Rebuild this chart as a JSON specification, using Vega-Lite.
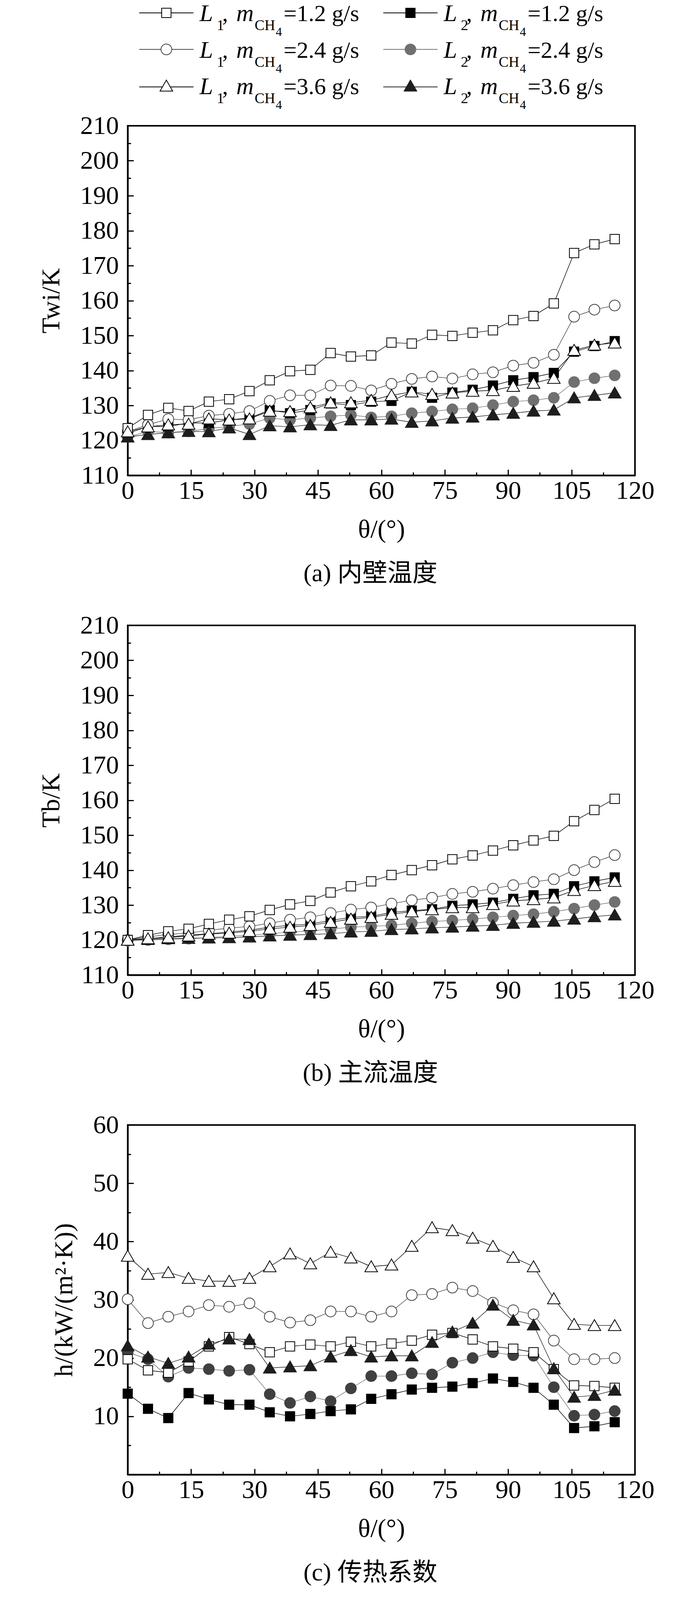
{
  "$schema": "https://vega.github.io/schema/vega-lite/v6.json",
  "background": "white",
  "padding": {"left": 96, "top": 0, "right": 97, "bottom": 0},
  "config": {
    "font": "Liberation Serif",
    "view": {"stroke": "black", "strokeWidth": 4},
    "axis": {
      "grid": false,
      "domainColor": "black",
      "domainWidth": 4,
      "tickColor": "black",
      "tickWidth": 3,
      "labelFont": "Liberation Serif",
      "labelFontSize": 66,
      "labelColor": "black",
      "labelFlush": false,
      "labelOverlap": false,
      "titleFont": "Liberation Serif",
      "titleFontSize": 66,
      "titleFontWeight": "normal",
      "titleColor": "black"
    },
    "axisX": {"labelPadding": 22, "titlePadding": 27},
    "axisY": {"labelPadding": 38, "titlePadding": 40},
    "title": {
      "font": "Liberation Serif, Noto Sans CJK SC",
      "fontSize": 64,
      "fontWeight": "normal",
      "color": "black",
      "orient": "bottom",
      "frame": "group",
      "anchor": "middle",
      "offset": 49
    },
    "text": {"font": "Liberation Serif", "color": "black", "align": "left", "baseline": "alphabetic"}
  },
  "datasets": {
    "a": [
      {"s":"L2-2.4","t":0,"v":121.0},{"s":"L2-2.4","t":4.8,"v":122.6},{"s":"L2-2.4","t":9.6,"v":122.2},{"s":"L2-2.4","t":14.4,"v":122.6},{"s":"L2-2.4","t":19.2,"v":123.4},{"s":"L2-2.4","t":24,"v":124.0},{"s":"L2-2.4","t":28.8,"v":124.7},{"s":"L2-2.4","t":33.6,"v":126.4},{"s":"L2-2.4","t":38.4,"v":125.9},{"s":"L2-2.4","t":43.2,"v":126.4},{"s":"L2-2.4","t":48,"v":126.9},{"s":"L2-2.4","t":52.8,"v":127.3},{"s":"L2-2.4","t":57.6,"v":126.6},{"s":"L2-2.4","t":62.4,"v":126.9},{"s":"L2-2.4","t":67.2,"v":127.8},{"s":"L2-2.4","t":72,"v":128.3},{"s":"L2-2.4","t":76.8,"v":128.9},{"s":"L2-2.4","t":81.6,"v":129.2},{"s":"L2-2.4","t":86.4,"v":130.1},{"s":"L2-2.4","t":91.2,"v":131.1},{"s":"L2-2.4","t":96,"v":131.5},{"s":"L2-2.4","t":100.8,"v":132.2},{"s":"L2-2.4","t":105.6,"v":136.7},{"s":"L2-2.4","t":110.4,"v":137.8},{"s":"L2-2.4","t":115.2,"v":138.6},
      {"s":"L2-1.2","t":0,"v":122.0},{"s":"L2-1.2","t":4.8,"v":124.0},{"s":"L2-1.2","t":9.6,"v":124.0},{"s":"L2-1.2","t":14.4,"v":125.0},{"s":"L2-1.2","t":19.2,"v":125.0},{"s":"L2-1.2","t":24,"v":125.9},{"s":"L2-1.2","t":28.8,"v":126.4},{"s":"L2-1.2","t":33.6,"v":128.7},{"s":"L2-1.2","t":38.4,"v":127.8},{"s":"L2-1.2","t":43.2,"v":128.7},{"s":"L2-1.2","t":48,"v":130.6},{"s":"L2-1.2","t":52.8,"v":130.1},{"s":"L2-1.2","t":57.6,"v":131.1},{"s":"L2-1.2","t":62.4,"v":131.3},{"s":"L2-1.2","t":67.2,"v":133.9},{"s":"L2-1.2","t":72,"v":132.2},{"s":"L2-1.2","t":76.8,"v":133.7},{"s":"L2-1.2","t":81.6,"v":134.5},{"s":"L2-1.2","t":86.4,"v":135.7},{"s":"L2-1.2","t":91.2,"v":137.2},{"s":"L2-1.2","t":96,"v":138.1},{"s":"L2-1.2","t":100.8,"v":139.3},{"s":"L2-1.2","t":105.6,"v":145.4},{"s":"L2-1.2","t":110.4,"v":147.0},{"s":"L2-1.2","t":115.2,"v":148.4},
      {"s":"L1-2.4","t":0,"v":122.5},{"s":"L1-2.4","t":4.8,"v":124.5},{"s":"L1-2.4","t":9.6,"v":126.1},{"s":"L1-2.4","t":14.4,"v":125.9},{"s":"L1-2.4","t":19.2,"v":127.1},{"s":"L1-2.4","t":24,"v":127.6},{"s":"L1-2.4","t":28.8,"v":128.4},{"s":"L1-2.4","t":33.6,"v":131.3},{"s":"L1-2.4","t":38.4,"v":132.9},{"s":"L1-2.4","t":43.2,"v":132.9},{"s":"L1-2.4","t":48,"v":135.7},{"s":"L1-2.4","t":52.8,"v":135.6},{"s":"L1-2.4","t":57.6,"v":134.3},{"s":"L1-2.4","t":62.4,"v":136.2},{"s":"L1-2.4","t":67.2,"v":137.6},{"s":"L1-2.4","t":72,"v":138.3},{"s":"L1-2.4","t":76.8,"v":137.7},{"s":"L1-2.4","t":81.6,"v":138.9},{"s":"L1-2.4","t":86.4,"v":139.5},{"s":"L1-2.4","t":91.2,"v":141.4},{"s":"L1-2.4","t":96,"v":142.2},{"s":"L1-2.4","t":100.8,"v":144.5},{"s":"L1-2.4","t":105.6,"v":155.4},{"s":"L1-2.4","t":110.4,"v":157.4},{"s":"L1-2.4","t":115.2,"v":158.6},
      {"s":"L1-1.2","t":0,"v":123.5},{"s":"L1-1.2","t":4.8,"v":127.3},{"s":"L1-1.2","t":9.6,"v":129.3},{"s":"L1-1.2","t":14.4,"v":128.4},{"s":"L1-1.2","t":19.2,"v":131.1},{"s":"L1-1.2","t":24,"v":131.8},{"s":"L1-1.2","t":28.8,"v":134.1},{"s":"L1-1.2","t":33.6,"v":137.2},{"s":"L1-1.2","t":38.4,"v":139.8},{"s":"L1-1.2","t":43.2,"v":140.2},{"s":"L1-1.2","t":48,"v":145.0},{"s":"L1-1.2","t":52.8,"v":144.0},{"s":"L1-1.2","t":57.6,"v":144.3},{"s":"L1-1.2","t":62.4,"v":148.0},{"s":"L1-1.2","t":67.2,"v":147.7},{"s":"L1-1.2","t":72,"v":150.2},{"s":"L1-1.2","t":76.8,"v":149.9},{"s":"L1-1.2","t":81.6,"v":150.8},{"s":"L1-1.2","t":86.4,"v":151.5},{"s":"L1-1.2","t":91.2,"v":154.4},{"s":"L1-1.2","t":96,"v":155.6},{"s":"L1-1.2","t":100.8,"v":159.2},{"s":"L1-1.2","t":105.6,"v":173.6},{"s":"L1-1.2","t":110.4,"v":176.1},{"s":"L1-1.2","t":115.2,"v":177.6},
      {"s":"L2-3.6","t":0,"v":121.0},{"s":"L2-3.6","t":4.8,"v":121.7},{"s":"L2-3.6","t":9.6,"v":122.2},{"s":"L2-3.6","t":14.4,"v":122.6},{"s":"L2-3.6","t":19.2,"v":122.5},{"s":"L2-3.6","t":24,"v":123.6},{"s":"L2-3.6","t":28.8,"v":121.7},{"s":"L2-3.6","t":33.6,"v":124.2},{"s":"L2-3.6","t":38.4,"v":123.9},{"s":"L2-3.6","t":43.2,"v":124.5},{"s":"L2-3.6","t":48,"v":124.3},{"s":"L2-3.6","t":52.8,"v":125.9},{"s":"L2-3.6","t":57.6,"v":125.9},{"s":"L2-3.6","t":62.4,"v":126.1},{"s":"L2-3.6","t":67.2,"v":125.2},{"s":"L2-3.6","t":72,"v":125.6},{"s":"L2-3.6","t":76.8,"v":126.4},{"s":"L2-3.6","t":81.6,"v":126.7},{"s":"L2-3.6","t":86.4,"v":127.3},{"s":"L2-3.6","t":91.2,"v":127.8},{"s":"L2-3.6","t":96,"v":128.4},{"s":"L2-3.6","t":100.8,"v":128.7},{"s":"L2-3.6","t":105.6,"v":132.2},{"s":"L2-3.6","t":110.4,"v":132.9},{"s":"L2-3.6","t":115.2,"v":133.6},
      {"s":"L1-3.6","t":0,"v":122.5},{"s":"L1-3.6","t":4.8,"v":123.9},{"s":"L1-3.6","t":9.6,"v":124.5},{"s":"L1-3.6","t":14.4,"v":124.7},{"s":"L1-3.6","t":19.2,"v":126.2},{"s":"L1-3.6","t":24,"v":125.9},{"s":"L1-3.6","t":28.8,"v":126.2},{"s":"L1-3.6","t":33.6,"v":128.4},{"s":"L1-3.6","t":38.4,"v":128.3},{"s":"L1-3.6","t":43.2,"v":129.4},{"s":"L1-3.6","t":48,"v":130.8},{"s":"L1-3.6","t":52.8,"v":130.8},{"s":"L1-3.6","t":57.6,"v":131.5},{"s":"L1-3.6","t":62.4,"v":132.9},{"s":"L1-3.6","t":67.2,"v":133.9},{"s":"L1-3.6","t":72,"v":133.2},{"s":"L1-3.6","t":76.8,"v":133.6},{"s":"L1-3.6","t":81.6,"v":134.1},{"s":"L1-3.6","t":86.4,"v":134.3},{"s":"L1-3.6","t":91.2,"v":135.5},{"s":"L1-3.6","t":96,"v":136.4},{"s":"L1-3.6","t":100.8,"v":137.8},{"s":"L1-3.6","t":105.6,"v":145.8},{"s":"L1-3.6","t":110.4,"v":147.3},{"s":"L1-3.6","t":115.2,"v":147.9}
    ],
    "b": [
      {"s":"L2-2.4","t":0,"v":119.8},{"s":"L2-2.4","t":4.8,"v":120.0},{"s":"L2-2.4","t":9.6,"v":120.2},{"s":"L2-2.4","t":14.4,"v":120.4},{"s":"L2-2.4","t":19.2,"v":120.7},{"s":"L2-2.4","t":24,"v":121.1},{"s":"L2-2.4","t":28.8,"v":121.4},{"s":"L2-2.4","t":33.6,"v":121.8},{"s":"L2-2.4","t":38.4,"v":122.3},{"s":"L2-2.4","t":43.2,"v":122.6},{"s":"L2-2.4","t":48,"v":123.1},{"s":"L2-2.4","t":52.8,"v":123.7},{"s":"L2-2.4","t":57.6,"v":123.9},{"s":"L2-2.4","t":62.4,"v":124.2},{"s":"L2-2.4","t":67.2,"v":124.8},{"s":"L2-2.4","t":72,"v":125.3},{"s":"L2-2.4","t":76.8,"v":125.6},{"s":"L2-2.4","t":81.6,"v":126.0},{"s":"L2-2.4","t":86.4,"v":126.5},{"s":"L2-2.4","t":91.2,"v":127.0},{"s":"L2-2.4","t":96,"v":127.4},{"s":"L2-2.4","t":100.8,"v":128.1},{"s":"L2-2.4","t":105.6,"v":129.0},{"s":"L2-2.4","t":110.4,"v":130.0},{"s":"L2-2.4","t":115.2,"v":130.9},
      {"s":"L2-1.2","t":0,"v":120.0},{"s":"L2-1.2","t":4.8,"v":120.4},{"s":"L2-1.2","t":9.6,"v":120.9},{"s":"L2-1.2","t":14.4,"v":121.4},{"s":"L2-1.2","t":19.2,"v":121.8},{"s":"L2-1.2","t":24,"v":122.3},{"s":"L2-1.2","t":28.8,"v":122.8},{"s":"L2-1.2","t":33.6,"v":123.7},{"s":"L2-1.2","t":38.4,"v":124.2},{"s":"L2-1.2","t":43.2,"v":124.6},{"s":"L2-1.2","t":48,"v":125.6},{"s":"L2-1.2","t":52.8,"v":126.5},{"s":"L2-1.2","t":57.6,"v":126.8},{"s":"L2-1.2","t":62.4,"v":127.9},{"s":"L2-1.2","t":67.2,"v":128.4},{"s":"L2-1.2","t":72,"v":128.8},{"s":"L2-1.2","t":76.8,"v":129.8},{"s":"L2-1.2","t":81.6,"v":130.2},{"s":"L2-1.2","t":86.4,"v":130.7},{"s":"L2-1.2","t":91.2,"v":131.8},{"s":"L2-1.2","t":96,"v":132.8},{"s":"L2-1.2","t":100.8,"v":133.2},{"s":"L2-1.2","t":105.6,"v":135.4},{"s":"L2-1.2","t":110.4,"v":136.8},{"s":"L2-1.2","t":115.2,"v":137.9},
      {"s":"L1-2.4","t":0,"v":120.0},{"s":"L1-2.4","t":4.8,"v":120.9},{"s":"L1-2.4","t":9.6,"v":121.6},{"s":"L1-2.4","t":14.4,"v":122.0},{"s":"L1-2.4","t":19.2,"v":122.8},{"s":"L1-2.4","t":24,"v":123.4},{"s":"L1-2.4","t":28.8,"v":123.9},{"s":"L1-2.4","t":33.6,"v":124.8},{"s":"L1-2.4","t":38.4,"v":125.8},{"s":"L1-2.4","t":43.2,"v":126.5},{"s":"L1-2.4","t":48,"v":127.7},{"s":"L1-2.4","t":52.8,"v":128.7},{"s":"L1-2.4","t":57.6,"v":129.3},{"s":"L1-2.4","t":62.4,"v":130.4},{"s":"L1-2.4","t":67.2,"v":131.4},{"s":"L1-2.4","t":72,"v":132.1},{"s":"L1-2.4","t":76.8,"v":133.2},{"s":"L1-2.4","t":81.6,"v":133.8},{"s":"L1-2.4","t":86.4,"v":134.7},{"s":"L1-2.4","t":91.2,"v":135.7},{"s":"L1-2.4","t":96,"v":136.6},{"s":"L1-2.4","t":100.8,"v":137.4},{"s":"L1-2.4","t":105.6,"v":140.0},{"s":"L1-2.4","t":110.4,"v":142.3},{"s":"L1-2.4","t":115.2,"v":144.3},
      {"s":"L1-1.2","t":0,"v":120.0},{"s":"L1-1.2","t":4.8,"v":121.4},{"s":"L1-1.2","t":9.6,"v":122.5},{"s":"L1-1.2","t":14.4,"v":123.2},{"s":"L1-1.2","t":19.2,"v":124.6},{"s":"L1-1.2","t":24,"v":125.8},{"s":"L1-1.2","t":28.8,"v":126.8},{"s":"L1-1.2","t":33.6,"v":128.6},{"s":"L1-1.2","t":38.4,"v":130.2},{"s":"L1-1.2","t":43.2,"v":131.2},{"s":"L1-1.2","t":48,"v":133.6},{"s":"L1-1.2","t":52.8,"v":135.4},{"s":"L1-1.2","t":57.6,"v":136.8},{"s":"L1-1.2","t":62.4,"v":138.6},{"s":"L1-1.2","t":67.2,"v":140.0},{"s":"L1-1.2","t":72,"v":141.4},{"s":"L1-1.2","t":76.8,"v":143.1},{"s":"L1-1.2","t":81.6,"v":144.2},{"s":"L1-1.2","t":86.4,"v":145.6},{"s":"L1-1.2","t":91.2,"v":147.1},{"s":"L1-1.2","t":96,"v":148.5},{"s":"L1-1.2","t":100.8,"v":149.8},{"s":"L1-1.2","t":105.6,"v":154.0},{"s":"L1-1.2","t":110.4,"v":157.2},{"s":"L1-1.2","t":115.2,"v":160.4},
      {"s":"L2-3.6","t":0,"v":120.0},{"s":"L2-3.6","t":4.8,"v":120.2},{"s":"L2-3.6","t":9.6,"v":120.4},{"s":"L2-3.6","t":14.4,"v":120.5},{"s":"L2-3.6","t":19.2,"v":120.6},{"s":"L2-3.6","t":24,"v":120.7},{"s":"L2-3.6","t":28.8,"v":120.9},{"s":"L2-3.6","t":33.6,"v":121.2},{"s":"L2-3.6","t":38.4,"v":121.4},{"s":"L2-3.6","t":43.2,"v":121.6},{"s":"L2-3.6","t":48,"v":121.8},{"s":"L2-3.6","t":52.8,"v":122.3},{"s":"L2-3.6","t":57.6,"v":122.5},{"s":"L2-3.6","t":62.4,"v":123.0},{"s":"L2-3.6","t":67.2,"v":123.2},{"s":"L2-3.6","t":72,"v":123.5},{"s":"L2-3.6","t":76.8,"v":123.7},{"s":"L2-3.6","t":81.6,"v":124.0},{"s":"L2-3.6","t":86.4,"v":124.2},{"s":"L2-3.6","t":91.2,"v":124.8},{"s":"L2-3.6","t":96,"v":125.1},{"s":"L2-3.6","t":100.8,"v":125.4},{"s":"L2-3.6","t":105.6,"v":126.0},{"s":"L2-3.6","t":110.4,"v":126.7},{"s":"L2-3.6","t":115.2,"v":127.2},
      {"s":"L1-3.6","t":0,"v":120.0},{"s":"L1-3.6","t":4.8,"v":120.4},{"s":"L1-3.6","t":9.6,"v":120.7},{"s":"L1-3.6","t":14.4,"v":121.2},{"s":"L1-3.6","t":19.2,"v":121.7},{"s":"L1-3.6","t":24,"v":122.0},{"s":"L1-3.6","t":28.8,"v":122.5},{"s":"L1-3.6","t":33.6,"v":123.2},{"s":"L1-3.6","t":38.4,"v":123.7},{"s":"L1-3.6","t":43.2,"v":124.2},{"s":"L1-3.6","t":48,"v":125.1},{"s":"L1-3.6","t":52.8,"v":126.0},{"s":"L1-3.6","t":57.6,"v":126.5},{"s":"L1-3.6","t":62.4,"v":127.4},{"s":"L1-3.6","t":67.2,"v":128.1},{"s":"L1-3.6","t":72,"v":128.7},{"s":"L1-3.6","t":76.8,"v":129.3},{"s":"L1-3.6","t":81.6,"v":129.3},{"s":"L1-3.6","t":86.4,"v":130.2},{"s":"L1-3.6","t":91.2,"v":131.2},{"s":"L1-3.6","t":96,"v":131.6},{"s":"L1-3.6","t":100.8,"v":132.1},{"s":"L1-3.6","t":105.6,"v":134.2},{"s":"L1-3.6","t":110.4,"v":135.6},{"s":"L1-3.6","t":115.2,"v":136.8}
    ],
    "c": [
      {"s":"L2-2.4","t":0,"v":21.0},{"s":"L2-2.4","t":4.8,"v":19.8},{"s":"L2-2.4","t":9.6,"v":16.8},{"s":"L2-2.4","t":14.4,"v":18.3},{"s":"L2-2.4","t":19.2,"v":18.1},{"s":"L2-2.4","t":24,"v":17.8},{"s":"L2-2.4","t":28.8,"v":18.0},{"s":"L2-2.4","t":33.6,"v":13.8},{"s":"L2-2.4","t":38.4,"v":12.3},{"s":"L2-2.4","t":43.2,"v":13.4},{"s":"L2-2.4","t":48,"v":12.6},{"s":"L2-2.4","t":52.8,"v":14.8},{"s":"L2-2.4","t":57.6,"v":16.9},{"s":"L2-2.4","t":62.4,"v":16.9},{"s":"L2-2.4","t":67.2,"v":17.4},{"s":"L2-2.4","t":72,"v":17.2},{"s":"L2-2.4","t":76.8,"v":19.2},{"s":"L2-2.4","t":81.6,"v":20.0},{"s":"L2-2.4","t":86.4,"v":21.0},{"s":"L2-2.4","t":91.2,"v":20.5},{"s":"L2-2.4","t":96,"v":20.4},{"s":"L2-2.4","t":100.8,"v":15.0},{"s":"L2-2.4","t":105.6,"v":10.1},{"s":"L2-2.4","t":110.4,"v":10.3},{"s":"L2-2.4","t":115.2,"v":10.9},
      {"s":"L2-1.2","t":0,"v":13.9},{"s":"L2-1.2","t":4.8,"v":11.3},{"s":"L2-1.2","t":9.6,"v":9.7},{"s":"L2-1.2","t":14.4,"v":14.0},{"s":"L2-1.2","t":19.2,"v":12.9},{"s":"L2-1.2","t":24,"v":12.0},{"s":"L2-1.2","t":28.8,"v":12.0},{"s":"L2-1.2","t":33.6,"v":10.7},{"s":"L2-1.2","t":38.4,"v":10.0},{"s":"L2-1.2","t":43.2,"v":10.4},{"s":"L2-1.2","t":48,"v":10.9},{"s":"L2-1.2","t":52.8,"v":11.2},{"s":"L2-1.2","t":57.6,"v":13.0},{"s":"L2-1.2","t":62.4,"v":13.8},{"s":"L2-1.2","t":67.2,"v":14.6},{"s":"L2-1.2","t":72,"v":14.9},{"s":"L2-1.2","t":76.8,"v":15.1},{"s":"L2-1.2","t":81.6,"v":15.7},{"s":"L2-1.2","t":86.4,"v":16.5},{"s":"L2-1.2","t":91.2,"v":15.9},{"s":"L2-1.2","t":96,"v":14.9},{"s":"L2-1.2","t":100.8,"v":12.0},{"s":"L2-1.2","t":105.6,"v":8.0},{"s":"L2-1.2","t":110.4,"v":8.3},{"s":"L2-1.2","t":115.2,"v":9.0},
      {"s":"L1-2.4","t":0,"v":30.1},{"s":"L1-2.4","t":4.8,"v":26.0},{"s":"L1-2.4","t":9.6,"v":27.1},{"s":"L1-2.4","t":14.4,"v":28.0},{"s":"L1-2.4","t":19.2,"v":29.1},{"s":"L1-2.4","t":24,"v":28.8},{"s":"L1-2.4","t":28.8,"v":29.4},{"s":"L1-2.4","t":33.6,"v":27.1},{"s":"L1-2.4","t":38.4,"v":26.1},{"s":"L1-2.4","t":43.2,"v":26.5},{"s":"L1-2.4","t":48,"v":28.0},{"s":"L1-2.4","t":52.8,"v":28.0},{"s":"L1-2.4","t":57.6,"v":27.1},{"s":"L1-2.4","t":62.4,"v":28.0},{"s":"L1-2.4","t":67.2,"v":30.8},{"s":"L1-2.4","t":72,"v":31.0},{"s":"L1-2.4","t":76.8,"v":32.1},{"s":"L1-2.4","t":81.6,"v":31.5},{"s":"L1-2.4","t":86.4,"v":29.5},{"s":"L1-2.4","t":91.2,"v":28.2},{"s":"L1-2.4","t":96,"v":27.5},{"s":"L1-2.4","t":100.8,"v":23.0},{"s":"L1-2.4","t":105.6,"v":19.8},{"s":"L1-2.4","t":110.4,"v":19.8},{"s":"L1-2.4","t":115.2,"v":20.0},
      {"s":"L1-1.2","t":0,"v":19.8},{"s":"L1-1.2","t":4.8,"v":17.9},{"s":"L1-1.2","t":9.6,"v":17.5},{"s":"L1-1.2","t":14.4,"v":19.4},{"s":"L1-1.2","t":19.2,"v":22.0},{"s":"L1-1.2","t":24,"v":23.6},{"s":"L1-1.2","t":28.8,"v":22.4},{"s":"L1-1.2","t":33.6,"v":21.0},{"s":"L1-1.2","t":38.4,"v":22.0},{"s":"L1-1.2","t":43.2,"v":22.3},{"s":"L1-1.2","t":48,"v":22.0},{"s":"L1-1.2","t":52.8,"v":22.8},{"s":"L1-1.2","t":57.6,"v":22.0},{"s":"L1-1.2","t":62.4,"v":22.5},{"s":"L1-1.2","t":67.2,"v":23.0},{"s":"L1-1.2","t":72,"v":24.0},{"s":"L1-1.2","t":76.8,"v":24.3},{"s":"L1-1.2","t":81.6,"v":23.2},{"s":"L1-1.2","t":86.4,"v":22.0},{"s":"L1-1.2","t":91.2,"v":21.6},{"s":"L1-1.2","t":96,"v":21.0},{"s":"L1-1.2","t":100.8,"v":18.1},{"s":"L1-1.2","t":105.6,"v":15.3},{"s":"L1-1.2","t":110.4,"v":15.2},{"s":"L1-1.2","t":115.2,"v":14.9},
      {"s":"L2-3.6","t":0,"v":22.1},{"s":"L2-3.6","t":4.8,"v":20.2},{"s":"L2-3.6","t":9.6,"v":19.1},{"s":"L2-3.6","t":14.4,"v":20.2},{"s":"L2-3.6","t":19.2,"v":22.4},{"s":"L2-3.6","t":24,"v":23.3},{"s":"L2-3.6","t":28.8,"v":23.2},{"s":"L2-3.6","t":33.6,"v":18.3},{"s":"L2-3.6","t":38.4,"v":18.5},{"s":"L2-3.6","t":43.2,"v":18.7},{"s":"L2-3.6","t":48,"v":20.2},{"s":"L2-3.6","t":52.8,"v":21.3},{"s":"L2-3.6","t":57.6,"v":20.2},{"s":"L2-3.6","t":62.4,"v":20.4},{"s":"L2-3.6","t":67.2,"v":20.4},{"s":"L2-3.6","t":72,"v":22.7},{"s":"L2-3.6","t":76.8,"v":24.5},{"s":"L2-3.6","t":81.6,"v":26.0},{"s":"L2-3.6","t":86.4,"v":29.1},{"s":"L2-3.6","t":91.2,"v":26.5},{"s":"L2-3.6","t":96,"v":25.7},{"s":"L2-3.6","t":100.8,"v":18.2},{"s":"L2-3.6","t":105.6,"v":13.3},{"s":"L2-3.6","t":110.4,"v":13.6},{"s":"L2-3.6","t":115.2,"v":14.5},
      {"s":"L1-3.6","t":0,"v":37.5},{"s":"L1-3.6","t":4.8,"v":34.4},{"s":"L1-3.6","t":9.6,"v":34.7},{"s":"L1-3.6","t":14.4,"v":33.7},{"s":"L1-3.6","t":19.2,"v":33.2},{"s":"L1-3.6","t":24,"v":33.2},{"s":"L1-3.6","t":28.8,"v":33.7},{"s":"L1-3.6","t":33.6,"v":35.7},{"s":"L1-3.6","t":38.4,"v":37.9},{"s":"L1-3.6","t":43.2,"v":36.2},{"s":"L1-3.6","t":48,"v":38.2},{"s":"L1-3.6","t":52.8,"v":37.2},{"s":"L1-3.6","t":57.6,"v":35.7},{"s":"L1-3.6","t":62.4,"v":36.0},{"s":"L1-3.6","t":67.2,"v":39.2},{"s":"L1-3.6","t":72,"v":42.4},{"s":"L1-3.6","t":76.8,"v":41.9},{"s":"L1-3.6","t":81.6,"v":40.6},{"s":"L1-3.6","t":86.4,"v":39.2},{"s":"L1-3.6","t":91.2,"v":37.3},{"s":"L1-3.6","t":96,"v":35.7},{"s":"L1-3.6","t":100.8,"v":30.2},{"s":"L1-3.6","t":105.6,"v":25.8},{"s":"L1-3.6","t":110.4,"v":25.6},{"s":"L1-3.6","t":115.2,"v":25.6}
    ]
  },
  "spacing": 26,
  "bounds": "flush",
  "resolve": {"scale": {"shape": "independent", "x": "independent", "y": "independent", "fill": "shared", "stroke": "shared"}},
  "vconcat": [
    {
      "width": 1299,
      "height": 296,
      "view": {"stroke": null},
      "data": {"values": [
        {"s": "L1-1.2", "L": "1", "m": "1.2", "lab": "=1.2 g/s"},
        {"s": "L2-1.2", "L": "2", "m": "1.2", "lab": "=1.2 g/s"},
        {"s": "L1-2.4", "L": "1", "m": "2.4", "lab": "=2.4 g/s"},
        {"s": "L2-2.4", "L": "2", "m": "2.4", "lab": "=2.4 g/s"},
        {"s": "L1-3.6", "L": "1", "m": "3.6", "lab": "=3.6 g/s"},
        {"s": "L2-3.6", "L": "2", "m": "3.6", "lab": "=3.6 g/s"}
      ]},
      "encoding": {
        "x": {"field": "L", "type": "nominal", "scale": {"type": "point", "domain": ["1", "2"], "range": [99, 724], "padding": 0}, "axis": null},
        "y": {"field": "m", "type": "nominal", "scale": {"type": "point", "domain": ["1.2", "2.4", "3.6"], "range": [33, 220], "padding": 0}, "axis": null}
      },
      "layer": [
        {
          "mark": {"type": "point", "filled": true, "size": 576, "strokeWidth": 2, "opacity": 1},
          "encoding": {
            "shape": {
              "field": "s", "type": "nominal", "legend": null,
              "scale": {
                "domain": ["L1-1.2", "L2-1.2", "L1-2.4", "L2-2.4", "L1-3.6", "L2-3.6"],
                "range": [
                  "M-5.8,0H-1M1,0H5.8M-1,-1H1V1H-1Z", "M-5.8,0H-1M1,0H5.8M-1,-1H1V1H-1Z",
                  "M-5.8,0H-1.15M1.15,0H5.8M-1.15,0A1.15,1.15 0 1,1 1.15,0A1.15,1.15 0 1,1 -1.15,0Z", "M-5.8,0H-1.15M1.15,0H5.8M-1.15,0A1.15,1.15 0 1,1 1.15,0A1.15,1.15 0 1,1 -1.15,0Z",
                  "M-5.8,0.2H-0.85M0.85,0.2H5.8M0,-1.25L1.35,1.1H-1.35Z", "M-5.8,0.2H-0.85M0.85,0.2H5.8M0,-1.25L1.35,1.1H-1.35Z"
                ]
              }
            },
            "fill": {"field": "s", "type": "nominal", "legend": null},
            "stroke": {"field": "s", "type": "nominal", "legend": null}
          }
        },
        {"mark": {"type": "text", "text": "L", "fontStyle": "italic", "fontSize": 62, "dx": 85, "dy": 21}},
        {"mark": {"type": "text", "fontSize": 38, "dx": 129, "dy": 44}, "encoding": {"text": {"field": "L"}}},
        {"mark": {"type": "text", "text": ",", "fontSize": 60, "dx": 143, "dy": 21}},
        {"mark": {"type": "text", "text": "m", "fontStyle": "italic", "fontSize": 62, "dx": 179, "dy": 21}},
        {"mark": {"type": "text", "text": "CH", "fontSize": 38, "dx": 226, "dy": 44}},
        {"mark": {"type": "text", "text": "4", "fontSize": 32, "dx": 280, "dy": 59}},
        {"mark": {"type": "text", "fontSize": 60, "dx": 300, "dy": 21}, "encoding": {"text": {"field": "lab"}}}
      ]
    },
    {
      "spacing": 384,
      "bounds": "flush",
      "resolve": {"scale": {"x": "independent", "y": "independent", "shape": "shared"}},
      "vconcat": [
        {
          "width": 1299,
          "height": 895,
          "title": {"text": "(a) 内壁温度", "dx": -28},
          "data": {"name": "a"},
          "encoding": {
            "x": {
              "field": "t", "type": "quantitative",
              "scale": {"domain": [0, 120], "nice": false},
              "axis": {
                "title": "θ/(°)",
                "values": [0, 7.5, 15, 22.5, 30, 37.5, 45, 52.5, 60, 67.5, 75, 82.5, 90, 97.5, 105, 112.5, 120],
                "labelExpr": "datum.value % 15 === 0 ? datum.label : ''",
                "tickSize": {"condition": {"test": "datum.value % 15 === 0", "value": -15}, "value": -8}
              }
            },
            "y": {
              "field": "v", "type": "quantitative",
              "scale": {"domain": [110, 210], "nice": false, "zero": false},
              "axis": {
                "title": "Twi/K",
                "values": [110, 115, 120, 125, 130, 135, 140, 145, 150, 155, 160, 165, 170, 175, 180, 185, 190, 195, 200, 205, 210],
                "labelExpr": "datum.value % 10 === 0 ? datum.label : ''",
                "tickSize": {"condition": {"test": "datum.value % 10 === 0", "value": -15}, "value": -8}
              }
            }
          },
          "layer": [
            {
              "mark": {"type": "line", "strokeWidth": 1.4},
              "encoding": {"stroke": {"field": "s", "type": "nominal", "legend": null}}
            },
            {
              "mark": {"type": "point", "filled": true, "size": 576, "strokeWidth": 2, "opacity": 1},
              "encoding": {
                "shape": {
                  "field": "s", "type": "nominal", "legend": null,
                  "scale": {
                    "domain": ["L1-1.2", "L2-1.2", "L1-2.4", "L2-2.4", "L1-3.6", "L2-3.6"],
                    "range": [
                      "M-1,-1H1V1H-1Z", "M-1,-1H1V1H-1Z",
                      "M-1.15,0A1.15,1.15 0 1,1 1.15,0A1.15,1.15 0 1,1 -1.15,0Z", "M-1.15,0A1.15,1.15 0 1,1 1.15,0A1.15,1.15 0 1,1 -1.15,0Z",
                      "M0,-1.25L1.35,1.1H-1.35Z", "M0,-1.25L1.35,1.1H-1.35Z"
                    ]
                  }
                },
                "fill": {
                  "field": "s", "type": "nominal", "legend": null,
                  "scale": {
                    "domain": ["L1-1.2", "L2-1.2", "L1-2.4", "L2-2.4", "L1-3.6", "L2-3.6"],
                    "range": ["#ffffff", "#000000", "#ffffff", "#707070", "#ffffff", "#1e1e1e"]
                  }
                },
                "stroke": {
                  "field": "s", "type": "nominal", "legend": null,
                  "scale": {
                    "domain": ["L1-1.2", "L2-1.2", "L1-2.4", "L2-2.4", "L1-3.6", "L2-3.6"],
                    "range": ["#000000", "#000000", "#444444", "#707070", "#000000", "#1e1e1e"]
                  }
                }
              }
            }
          ]
        },
        {
          "width": 1299,
          "height": 895,
          "title": {"text": "(b) 主流温度", "dx": -28},
          "data": {"name": "b"},
          "encoding": {
            "x": {
              "field": "t", "type": "quantitative",
              "scale": {"domain": [0, 120], "nice": false},
              "axis": {
                "title": "θ/(°)",
                "values": [0, 7.5, 15, 22.5, 30, 37.5, 45, 52.5, 60, 67.5, 75, 82.5, 90, 97.5, 105, 112.5, 120],
                "labelExpr": "datum.value % 15 === 0 ? datum.label : ''",
                "tickSize": {"condition": {"test": "datum.value % 15 === 0", "value": -15}, "value": -8}
              }
            },
            "y": {
              "field": "v", "type": "quantitative",
              "scale": {"domain": [110, 210], "nice": false, "zero": false},
              "axis": {
                "title": "Tb/K",
                "values": [110, 115, 120, 125, 130, 135, 140, 145, 150, 155, 160, 165, 170, 175, 180, 185, 190, 195, 200, 205, 210],
                "labelExpr": "datum.value % 10 === 0 ? datum.label : ''",
                "tickSize": {"condition": {"test": "datum.value % 10 === 0", "value": -15}, "value": -8}
              }
            }
          },
          "layer": [
            {
              "mark": {"type": "line", "strokeWidth": 1.4},
              "encoding": {"stroke": {"field": "s", "type": "nominal", "legend": null}}
            },
            {
              "mark": {"type": "point", "filled": true, "size": 576, "strokeWidth": 2, "opacity": 1},
              "encoding": {
                "shape": {"field": "s", "type": "nominal", "legend": null},
                "fill": {"field": "s", "type": "nominal", "legend": null},
                "stroke": {"field": "s", "type": "nominal", "legend": null}
              }
            }
          ]
        },
        {
          "width": 1299,
          "height": 895,
          "title": {"text": "(c) 传热系数", "dx": -28},
          "data": {"name": "c"},
          "encoding": {
            "x": {
              "field": "t", "type": "quantitative",
              "scale": {"domain": [0, 120], "nice": false},
              "axis": {
                "title": "θ/(°)",
                "values": [0, 7.5, 15, 22.5, 30, 37.5, 45, 52.5, 60, 67.5, 75, 82.5, 90, 97.5, 105, 112.5, 120],
                "labelExpr": "datum.value % 15 === 0 ? datum.label : ''",
                "tickSize": {"condition": {"test": "datum.value % 15 === 0", "value": -15}, "value": -8}
              }
            },
            "y": {
              "field": "v", "type": "quantitative",
              "scale": {"domain": [0, 60], "nice": false},
              "axis": {
                "title": "h/(kW/(m²·K))",
                "values": [0, 5, 10, 15, 20, 25, 30, 35, 40, 45, 50, 55, 60],
                "labelExpr": "datum.value % 10 === 0 && datum.value > 0 ? datum.label : ''",
                "tickSize": {"condition": {"test": "datum.value % 10 === 0", "value": -15}, "value": -8}
              }
            }
          },
          "layer": [
            {
              "mark": {"type": "line", "strokeWidth": 1.4},
              "encoding": {"stroke": {"field": "s", "type": "nominal", "legend": null}}
            },
            {
              "mark": {"type": "point", "filled": true, "size": 576, "strokeWidth": 2, "opacity": 1},
              "encoding": {
                "shape": {"field": "s", "type": "nominal", "legend": null},
                "fill": {"condition": {"test": "datum.s === 'L2-2.4'", "value": "#404040"}, "field": "s", "type": "nominal", "legend": null},
                "stroke": {"condition": {"test": "datum.s === 'L2-2.4'", "value": "#404040"}, "field": "s", "type": "nominal", "legend": null}
              }
            }
          ]
        }
      ]
    }
  ]
}
